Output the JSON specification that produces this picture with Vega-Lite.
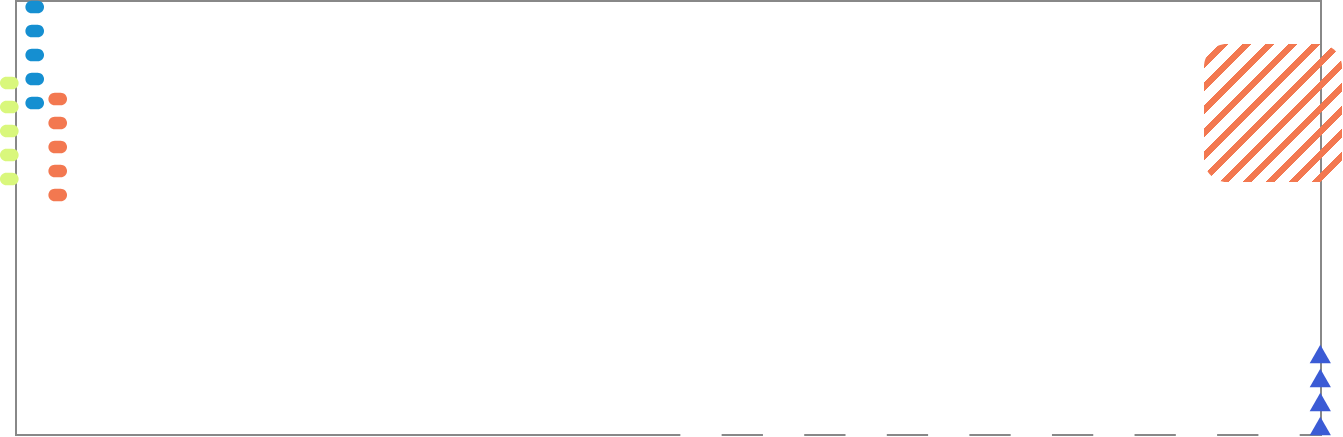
{
  "$schema": "https://vega.github.io/schema/vega-lite/v6.json",
  "width": 1305,
  "height": 434,
  "autosize": {"type": "none"},
  "padding": {"left": 16, "top": 1, "right": 22, "bottom": 2},
  "background": "white",
  "config": {
    "view": {
      "stroke": "#888",
      "strokeWidth": 2,
      "strokeDash": [1760.3, 41.29, 41.29, 41.29, 41.29, 41.29, 41.29, 41.29, 41.29, 41.29, 41.29, 41.29, 41.29, 41.29, 41.29, 41.29, 1098.35]
    }
  },
  "data": {
    "values": [
      {"series": "blue", "x": 18.7, "y": 428},
      {"series": "blue", "x": 18.7, "y": 404},
      {"series": "blue", "x": 18.7, "y": 380},
      {"series": "blue", "x": 18.7, "y": 356},
      {"series": "blue", "x": 18.7, "y": 332},
      {"series": "orange", "x": 41.7, "y": 336},
      {"series": "orange", "x": 41.7, "y": 312},
      {"series": "orange", "x": 41.7, "y": 288},
      {"series": "orange", "x": 41.7, "y": 264},
      {"series": "orange", "x": 41.7, "y": 240},
      {"series": "green", "x": -6.7, "y": 352},
      {"series": "green", "x": -6.7, "y": 328},
      {"series": "green", "x": -6.7, "y": 304},
      {"series": "green", "x": -6.7, "y": 280},
      {"series": "green", "x": -6.7, "y": 256},
      {"series": "triangle", "x": 1304.3, "y": 81},
      {"series": "triangle", "x": 1304.3, "y": 57},
      {"series": "triangle", "x": 1304.3, "y": 33},
      {"series": "triangle", "x": 1304.3, "y": 9},
      {"series": "hatch", "x": 1257, "y": 322}
    ]
  },
  "encoding": {
    "x": {"field": "x", "type": "quantitative", "axis": null,
          "scale": {"domain": [0, 1305], "nice": false, "zero": false}},
    "y": {"field": "y", "type": "quantitative", "axis": null,
          "scale": {"domain": [0, 434], "nice": false, "zero": false}}
  },
  "layer": [
    {
      "transform": [{"filter": "datum.series == 'hatch'"}],
      "mark": {
        "type": "point",
        "filled": true,
        "opacity": 1,
        "strokeWidth": 0,
        "size": 19044,
        "shape": "M-0.67,-1L0.67,-1C0.85,-1 1,-0.85 1,-0.67L1,0.67C1,0.85 0.85,1 0.67,1L-0.67,1C-0.85,1 -1,0.85 -1,0.67L-1,-0.67C-1,-0.85 -0.85,-1 -0.67,-1Z",
        "fill": {
          "gradient": "linear",
          "x1": 0, "y1": 0, "x2": 1, "y2": 1,
          "stops": [
            {"offset": 0, "color": "rgba(243,120,80,0)"},
            {"offset": 0.057, "color": "rgba(243,120,80,0)"},
            {"offset": 0.057, "color": "#f37850"},
            {"offset": 0.087, "color": "#f37850"},
            {"offset": 0.087, "color": "rgba(243,120,80,0)"},
            {"offset": 0.1403, "color": "rgba(243,120,80,0)"},
            {"offset": 0.1403, "color": "#f37850"},
            {"offset": 0.1703, "color": "#f37850"},
            {"offset": 0.1703, "color": "rgba(243,120,80,0)"},
            {"offset": 0.2237, "color": "rgba(243,120,80,0)"},
            {"offset": 0.2237, "color": "#f37850"},
            {"offset": 0.2537, "color": "#f37850"},
            {"offset": 0.2537, "color": "rgba(243,120,80,0)"},
            {"offset": 0.307, "color": "rgba(243,120,80,0)"},
            {"offset": 0.307, "color": "#f37850"},
            {"offset": 0.337, "color": "#f37850"},
            {"offset": 0.337, "color": "rgba(243,120,80,0)"},
            {"offset": 0.3903, "color": "rgba(243,120,80,0)"},
            {"offset": 0.3903, "color": "#f37850"},
            {"offset": 0.4203, "color": "#f37850"},
            {"offset": 0.4203, "color": "rgba(243,120,80,0)"},
            {"offset": 0.4737, "color": "rgba(243,120,80,0)"},
            {"offset": 0.4737, "color": "#f37850"},
            {"offset": 0.5037, "color": "#f37850"},
            {"offset": 0.5037, "color": "rgba(243,120,80,0)"},
            {"offset": 0.557, "color": "rgba(243,120,80,0)"},
            {"offset": 0.557, "color": "#f37850"},
            {"offset": 0.587, "color": "#f37850"},
            {"offset": 0.587, "color": "rgba(243,120,80,0)"},
            {"offset": 0.6403, "color": "rgba(243,120,80,0)"},
            {"offset": 0.6403, "color": "#f37850"},
            {"offset": 0.6703, "color": "#f37850"},
            {"offset": 0.6703, "color": "rgba(243,120,80,0)"},
            {"offset": 0.7237, "color": "rgba(243,120,80,0)"},
            {"offset": 0.7237, "color": "#f37850"},
            {"offset": 0.7537, "color": "#f37850"},
            {"offset": 0.7537, "color": "rgba(243,120,80,0)"},
            {"offset": 0.807, "color": "rgba(243,120,80,0)"},
            {"offset": 0.807, "color": "#f37850"},
            {"offset": 0.837, "color": "#f37850"},
            {"offset": 0.837, "color": "rgba(243,120,80,0)"},
            {"offset": 0.8903, "color": "rgba(243,120,80,0)"},
            {"offset": 0.8903, "color": "#f37850"},
            {"offset": 0.9203, "color": "#f37850"},
            {"offset": 0.9203, "color": "rgba(243,120,80,0)"},
            {"offset": 0.9737, "color": "rgba(243,120,80,0)"},
            {"offset": 0.9737, "color": "#f37850"},
            {"offset": 1, "color": "#f37850"}
          ]
        }
      }
    },
    {
      "transform": [{"filter": "datum.series == 'blue' || datum.series == 'orange' || datum.series == 'green'"}],
      "mark": {
        "type": "point",
        "filled": true,
        "opacity": 1,
        "strokeWidth": 0,
        "size": 161,
        "shape": "M-0.47,-1L0.47,-1C1.0223,-1 1.47,-0.5523 1.47,0C1.47,0.5523 1.0223,1 0.47,1L-0.47,1C-1.0223,1 -1.47,0.5523 -1.47,0C-1.47,-0.5523 -1.0223,-1 -0.47,-1Z"
      },
      "encoding": {
        "color": {
          "field": "series", "type": "nominal", "legend": null,
          "scale": {"domain": ["blue", "orange", "green"], "range": ["#158fd1", "#f37850", "#d9f77c"]}
        }
      }
    },
    {
      "transform": [{"filter": "datum.series == 'triangle'"}],
      "mark": {
        "type": "point",
        "shape": "triangle-up",
        "filled": true,
        "opacity": 1,
        "strokeWidth": 0,
        "size": 450,
        "color": "#3b5bd5"
      }
    }
  ]
}
